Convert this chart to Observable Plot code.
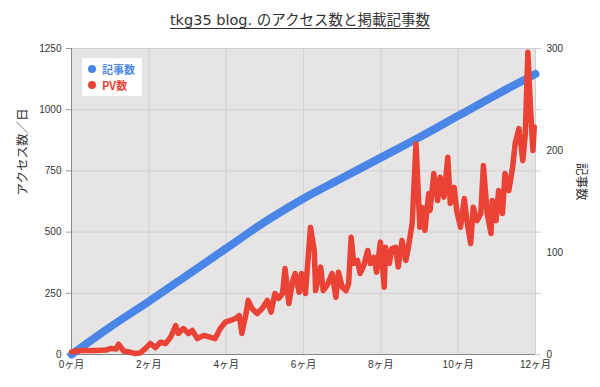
<!DOCTYPE html>
<html><head><meta charset="utf-8">
<script src="https://cdn.jsdelivr.net/npm/d3@7"></script>
<script src="https://cdn.jsdelivr.net/npm/@observablehq/plot@0.6"></script>
<style>
body{margin:0;background:#fff;}
#wrap{position:relative;width:600px;height:387px;overflow:hidden;font-family:"DejaVu Sans","Noto Sans CJK JP",sans-serif;}
#title{position:absolute;top:10px;left:0;width:600px;text-align:center;font-size:14.5px;line-height:20px;color:#333;text-decoration:underline;text-underline-offset:3px;}
#chart{position:absolute;top:40px;left:0;}
#legend{position:absolute;left:82px;top:58px;width:60px;height:38px;background:#fff;font-family:"Noto Sans CJK JP",sans-serif;font-weight:bold;font-size:11px;}
.item{position:absolute;left:0;width:60px;height:16px;}
.dot{position:absolute;left:6px;top:4px;width:8px;height:8px;border-radius:50%;}
.lab{position:absolute;left:20px;top:0;height:16px;line-height:16px;display:block;white-space:nowrap;}
</style></head>
<body>
<div id="wrap">
  <div id="title">tkg35 blog. のアクセス数と掲載記事数</div>
  <div id="chart"></div>
  <div id="legend"></div>
</div>
<script>
// ---- data ----
const seriesNames = ["記事数", "PV数"];
const seriesColors = ["#4a86e8", "#ea4335"];
const monthTicks = [0, 2, 4, 6, 8, 10, 12];
const accessTicks = [0, 250, 500, 750, 1000, 1250];
const articleTicks = [0, 100, 200, 300];
const articleMonths = [0, 1, 2, 3, 4, 5, 6, 7, 8, 9, 10, 11, 12];
const articleCounts = [0, 27, 52, 78, 104, 130, 153, 173, 193, 213, 234, 255, 275];
const pvDays = [0,7,19,27,31,35,37,39,41,45,50,54,58,62,66,70,74,78,82,84,88,92,95,99,104,109,113,117,121,125,129,132,134,137,139,142,146,150,154,157,160,163,166,168,171,174,176,179,181,184,188,191,192,196,198,201,205,208,210,213,216,218,220,222,225,227,230,233,235,238,240,243,246,247,250,252,255,257,260,263,265,268,271,274,276,278,281,282,285,288,290,293,296,298,301,303,306,309,311,314,316,319,322,324,327,330,331,334,336,339,341,344,347,349,352,355,357,359,361,363,364];
const pvCounts = [10,16,16,18,25,22,42,28,14,10,4,6,24,45,28,50,45,71,118,86,106,86,98,65,78,71,65,106,132,139,147,159,86,159,221,188,167,188,221,173,249,229,249,351,208,302,331,254,331,249,520,425,261,357,261,282,331,234,336,275,261,290,479,372,384,331,364,425,372,397,336,459,275,438,372,433,438,357,466,384,438,535,860,520,600,507,657,588,739,629,724,643,806,617,683,588,520,637,547,453,602,547,576,772,576,494,629,547,670,576,739,670,765,862,923,792,903,1235,1010,833,929];

const DAYS_PER_MONTH = 365 / 12;
const RATIO = 1250 / 300;
const articles = articleMonths.map((m, i) => ({m, v: articleCounts[i] * RATIO}));
const pv = pvDays.map((d, i) => ({m: d / DAYS_PER_MONTH, v: pvCounts[i]}));

const tickFont = '"Liberation Sans","Noto Sans CJK JP",sans-serif';

const chart = Plot.plot({
  width: 600, height: 347,
  marginTop: 8, marginBottom: 33, marginLeft: 71, marginRight: 65,
  x: {domain: [0, 12]},
  y: {domain: [0, 1250]},
  style: {fontFamily: tickFont, fontSize: "10px", color: "#333", background: "transparent", overflow: "visible"},
  marks: [
    Plot.frame({fill: "#e6e4e4", stroke: "none"}),
    Plot.gridY(accessTicks, {stroke: "#d2d0d0", strokeOpacity: 1}),
    Plot.gridX(monthTicks, {stroke: "#d2d0d0", strokeOpacity: 1}),
    Plot.axisY(accessTicks, {anchor: "left", tickSize: 5, tickPadding: 5, tickFormat: d => String(d), label: null, stroke: "#999"}),
    Plot.axisY(accessTicks, {anchor: "right", tickSize: 5, tickFormat: () => "", label: null, stroke: "#ccc"}),
    Plot.axisY(articleTicks.map(v => v * RATIO), {anchor: "right", tickSize: 0, tickPadding: 11, tickFormat: v => String(Math.round(v / RATIO)), label: null}),
    Plot.axisX(monthTicks, {anchor: "bottom", tickSize: 0, tickPadding: 6, tickFormat: d => `${d}ヶ月`, label: null}),
    Plot.ruleX([0], {stroke: "#888"}),
    Plot.ruleY([0], {stroke: "#888"}),
    Plot.line(articles, {x: "m", y: "v", stroke: seriesColors[0], strokeWidth: 8, strokeLinecap: "round", strokeLinejoin: "round", curve: "monotone-x"}),
    Plot.line(pv, {x: "m", y: "v", stroke: seriesColors[1], strokeWidth: 5.5, strokeLinejoin: "round", strokeLinecap: "round"}),
    Plot.text(["アクセス数／日"], {frameAnchor: "left", dx: -49, dy: -6, rotate: -90, fontSize: 12.5, fill: "#333", fontFamily: '"Noto Sans CJK JP",sans-serif'}),
    Plot.text(["記事数"], {frameAnchor: "right", dx: 45, dy: -1, rotate: 90, fontSize: 12.5, fill: "#333", fontFamily: '"Noto Sans CJK JP",sans-serif'})
  ]
});
document.getElementById("chart").appendChild(chart);

const legend = document.getElementById("legend");
seriesNames.forEach((name, i) => {
  const item = document.createElement("div");
  item.className = "item";
  item.style.top = (3 + i * 16) + "px";
  item.innerHTML = `<span class="dot" style="background:${seriesColors[i]}"></span><span class="lab" style="color:${seriesColors[i]}">${name}</span>`;
  legend.appendChild(item);
});
</script>
</body></html>
